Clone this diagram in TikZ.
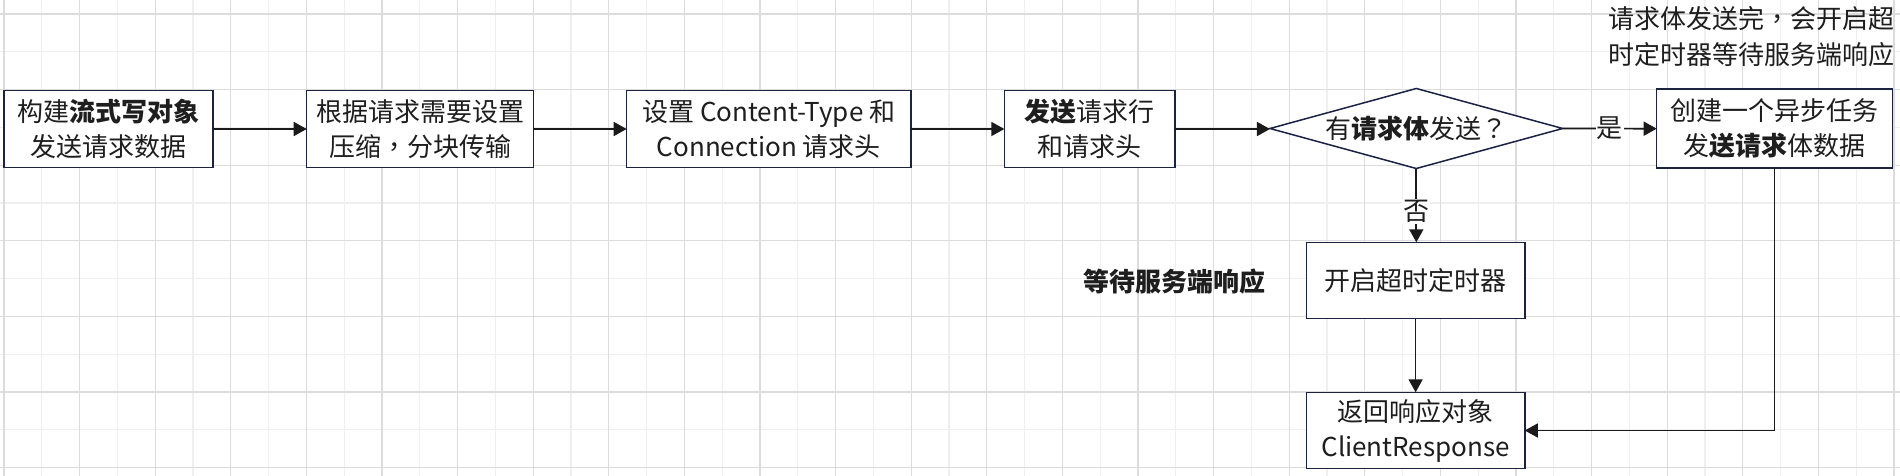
\documentclass[tikz,border=0pt]{standalone}
\usepackage{fontspec}
\setmainfont{Noto Sans CJK SC}
\newfontfamily\tcpunct{Noto Sans CJK TC}
\newcommand{\fwcomma}{{\tcpunct ，}}
\newcommand{\fwquest}{{\tcpunct ？}}
\usetikzlibrary{shapes.geometric,arrows.meta}
\definecolor{boxline}{HTML}{1C2242}
\definecolor{arrowc}{HTML}{1A1A1A}
\definecolor{gridmajor}{HTML}{DCDCDC}
\definecolor{gridminor}{HTML}{EFEFEF}
\definecolor{txt}{HTML}{1E1E1E}
\begin{document}
\begin{tikzpicture}[x=1pt,y=-1pt,
  stepbox/.style={draw=boxline, line width=1.5pt, fill=white, rectangle,
    inner sep=0pt, outer sep=0pt, minimum height=77pt, align=center,
    text=txt, font=\fontsize{26}{35}\selectfont},
  decide/.style={draw=boxline, line width=1.5pt, fill=white, diamond,
    shape aspect=3.66, inner sep=0pt, outer sep=0pt, minimum width=292.7pt,
    minimum height=80pt, text=txt, font=\fontsize{26}{35}\selectfont},
  flow/.style={draw=arrowc, line width=1.7pt, -{Triangle[length=13pt,width=14pt]}},
  lbl/.style={fill=white, inner sep=1pt, text=txt, font=\fontsize{26}{30}\selectfont},
  note/.style={text=txt, align=center, inner sep=0pt, font=\fontsize{26}{36.7}\selectfont},
  majorline/.style={draw=gridmajor, line width=1.3pt},
  minorline/.style={draw=gridminor, line width=1.3pt}
]
\useasboundingbox (0,0) rectangle (1900,476);
\fill[white] (0,0) rectangle (1900,476);
% grid
\foreach \i in {0,...,24} \draw[minorline] ({41.8+75.6*\i},0) -- ({41.8+75.6*\i},476);
\foreach \i in {0,...,5} \draw[minorline] (0,{51.8+75.6*\i}) -- (1900,{51.8+75.6*\i});
\foreach \i in {0,...,25} \draw[majorline] ({4+75.6*\i},0) -- ({4+75.6*\i},476);
\foreach \i in {0,...,6} \draw[majorline] (0,{14+75.6*\i}) -- (1900,{14+75.6*\i});

% nodes
\node[stepbox, minimum width=208.7pt] (b1) at (108.4,129) {构建\textbf{流式写对象}\\发送请求数据};
\node[stepbox, minimum width=226.6pt] (b2) at (420,129) {根据请求需要设置\\压缩\fwcomma 分块传输};
\node[stepbox, minimum width=284.3pt] (b3) at (768.8,129) {设置 Content-Type 和\\Connection 请求头};
\node[stepbox, minimum width=170.7pt] (b4) at (1089.7,129) {\textbf{发送}请求行\\和请求头};
\node[decide] (d) at (1416.3,128.5) {有\textbf{请求体}发送\fwquest};
\node[stepbox, minimum width=235.6pt, minimum height=79pt] (b6) at (1774.5,128.7) {创建一个异步任务\\发\textbf{送请求}体数据};
\node[stepbox, minimum width=218.4pt, minimum height=76.4pt] (t) at (1415.6,280.5) {开启超时定时器};
\node[stepbox, minimum width=218.4pt, minimum height=76.4pt] (r) at (1415.6,430.5) {返回响应对象\\ClientResponse};
\node[note] (wait) at (1174.6,281.7) {\textbf{等待服务端响应}};
\node[note] (tip) at (1751,36.7) {请求体发送完\fwcomma 会开启超\\时定时器等待服务端响应};

% connectors
\draw[flow] (b1.east) -- (b2.west);
\draw[flow] (b2.east) -- (b3.west);
\draw[flow] (b3.east) -- (b4.west);
\draw[flow] (b4.east) -- (b4.east -| d.west);
\draw[flow] (d.east) -- node[lbl] (yes) {是} (b6.west);
\draw[flow] (d.south) -- node[lbl, pos=0.58] (no) {否} (d.south |- t.north);
\draw[flow] (t.south) -- (r.north);
\draw[flow] (b6.south) |- (r.east);
\end{tikzpicture}
\end{document}
